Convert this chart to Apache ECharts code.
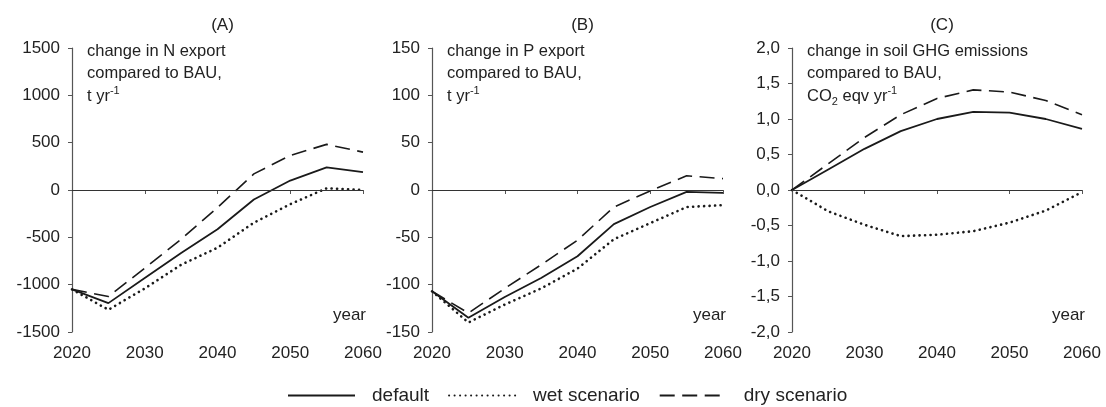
<!DOCTYPE html>
<html><head><meta charset="utf-8">
<script src="https://cdn.jsdelivr.net/npm/echarts@6/dist/echarts.min.js"></script>
<style>html,body{margin:0;padding:0;background:#fff}#c{width:1106px;height:407px}</style>
</head><body><div id="c"></div>
<script>
const years = [2020, 2025, 2030, 2035, 2040, 2045, 2050, 2055, 2060];
const xTicks = [2020, 2030, 2040, 2050, 2060];
const seriesNames = ['default', 'wet scenario', 'dry scenario'];

const nDefault = [-1050, -1195, -930, -665, -415, -100, 100, 240, 188];
const nWet     = [-1050, -1265, -1040, -790, -610, -345, -150, 18, 0];
const nDry     = [-1050, -1125, -825, -520, -185, 170, 365, 482, 400];

const pDefault = [-107, -135, -113, -93, -70, -36, -18, -2, -3];
const pWet     = [-107, -140, -121, -104, -83, -52, -35, -18, -16];
const pDry     = [-107, -130, -104, -79, -53, -18, -1, 15, 12];

const gDefault = [0, 0.29, 0.58, 0.83, 1.0, 1.1, 1.09, 1.0, 0.86];
const gWet     = [0, -0.3, -0.49, -0.65, -0.63, -0.58, -0.46, -0.29, -0.03];
const gDry     = [0, 0.37, 0.74, 1.06, 1.29, 1.41, 1.38, 1.26, 1.06];

const panels = [
  {title: '(A)', data: [nDefault, nWet, nDry], min: -1500, max: 1500, step: 500, dec: false,
   note: '{t|change in N export}\n{t|compared to BAU,}\n{t|t yr}{sup|-1}'},
  {title: '(B)', data: [pDefault, pWet, pDry], min: -150, max: 150, step: 50, dec: false,
   note: '{t|change in P export}\n{t|compared to BAU,}\n{t|t yr}{sup|-1}'},
  {title: '(C)', data: [gDefault, gWet, gDry], min: -2, max: 2, step: 0.5, dec: true,
   note: '{t|change in soil GHG emissions}\n{t|compared to BAU,}\n{t|CO}{sub|2}{t| eqv yr}{sup|-1}'}
];

const FONT = 'Liberation Sans, Arial, sans-serif';
const FS = 17;
const NS = 16.5;
const gridLeft = [72, 432, 792];
const gridW = [291, 291, 290];
const gTop = 48, gBottom = 332;
const lineColor = '#1a1a1a';
const axisColor = '#555';
const styles = [
  {type: 'solid', width: 1.8},
  {type: [0.1, 5.4], width: 2.6, cap: 'round'},
  {type: [15, 7.5], width: 1.6}
];

const grids = [], xAxes = [], yAxes = [], series = [], titles = [];
panels.forEach((p, i) => {
  grids.push({left: gridLeft[i], width: gridW[i], top: gTop, height: gBottom - gTop});
  xAxes.push({
    type: 'value', gridIndex: i, min: 2020, max: 2060, interval: 10,
    axisLine: {lineStyle: {color: axisColor, width: 1.2}},
    axisTick: {show: true, inside: false, length: 4, lineStyle: {color: axisColor}},
    axisLabel: {color: '#222', fontSize: FS, fontFamily: FONT, margin: 13,
      formatter: v => xTicks.includes(v) ? String(v) : ''},
    splitLine: {show: false}
  });
  yAxes.push({
    type: 'value', gridIndex: i, min: p.min, max: p.max, interval: p.step,
    axisLine: {show: true, lineStyle: {color: axisColor, width: 1.2}},
    axisTick: {show: true, inside: false, length: 4, lineStyle: {color: axisColor}},
    axisLabel: {color: '#222', fontSize: FS, fontFamily: FONT, margin: 12,
      formatter: v => p.dec ? v.toFixed(1).replace('.', ',') : String(v)},
    splitLine: {show: false}
  });
  p.data.forEach((d, k) => {
    const s = {
      name: seriesNames[k], type: 'line', xAxisIndex: i, yAxisIndex: i,
      data: years.map((y, j) => [y, d[j]]),
      symbol: 'none', showSymbol: false, smooth: false, silent: true,
      lineStyle: Object.assign({color: lineColor}, styles[k]),
      itemStyle: {color: lineColor},
      z: 3
    };
    if (k === 0) {
      s.markLine = {silent: true, symbol: 'none', label: {show: false},
        lineStyle: {color: '#333', width: 1.2, type: 'solid'},
        data: [{yAxis: 0}], animation: false};
    }
    series.push(s);
  });
  titles.push({text: p.title, left: gridLeft[i] + gridW[i] / 2, top: 12, textAlign: 'center',
    textStyle: {fontSize: FS, fontWeight: 'normal', color: '#222', fontFamily: FONT}});
  titles.push({text: p.note, left: gridLeft[i] + 10, top: 35,
    textStyle: {fontWeight: 'normal', rich: {
      t: {fontSize: NS, fontWeight: 'normal', color: '#222', fontFamily: FONT, lineHeight: 22.5},
      sup: {fontSize: 11, fontWeight: 'normal', color: '#222', fontFamily: FONT, verticalAlign: 'top', lineHeight: 22.5},
      sub: {fontSize: 11, fontWeight: 'normal', color: '#222', fontFamily: FONT, verticalAlign: 'bottom', lineHeight: 18}
    }}});
  titles.push({text: 'year', left: gridLeft[i] + gridW[i] - 2, top: 302, textAlign: 'right',
    textStyle: {fontSize: FS, fontWeight: 'normal', color: '#222', fontFamily: FONT}});
});

const chart = echarts.init(document.getElementById('c'), null, {renderer: 'canvas'});
chart.setOption({
  animation: false,
  backgroundColor: '#fff',
  title: titles,
  grid: grids, xAxis: xAxes, yAxis: yAxes, series: series,
  legend: {
    data: seriesNames, left: 282, top: 381, itemWidth: 67, itemHeight: 12, itemGap: 19,
    itemStyle: {opacity: 0, borderWidth: 0},
    textStyle: {fontSize: 19, color: '#222', fontFamily: FONT, padding: [0, 0, 0, 12]}
  }
});
</script></body></html>
